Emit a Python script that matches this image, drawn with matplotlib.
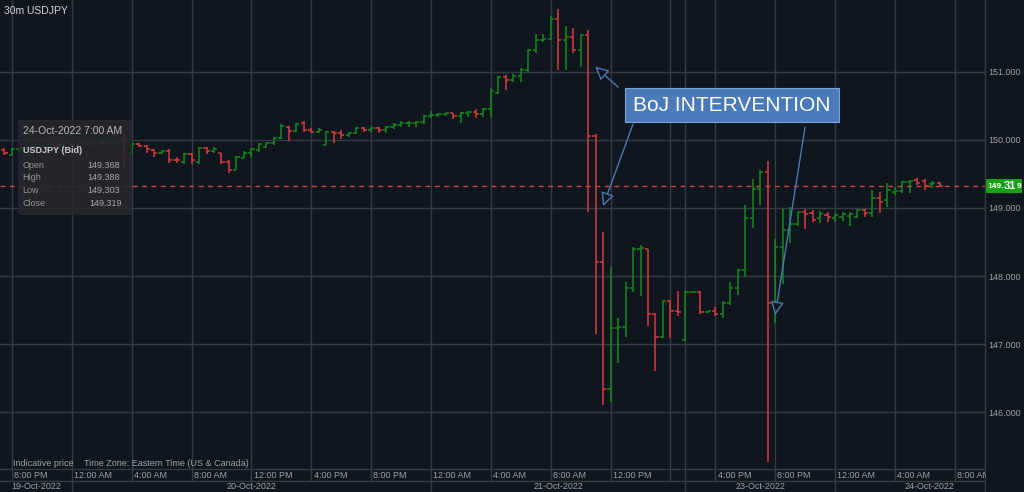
import numpy as np
import matplotlib.pyplot as plt
from matplotlib.patches import Rectangle, FancyArrowPatch
from matplotlib import transforms

plt.rcParams['font.family'] = ['Liberation Sans', 'DejaVu Sans']

# 30m USDJPY bars; index 0 = 19-Oct-2022 8:00 PM ET, weekend squeezed out
bar_idx = list(range(-1, 125))

opens = [149.85, 149.78, 149.86, 149.88, 149.90, 149.89, 149.92, 149.93, 149.92, 149.94,
         149.93, 149.95, 149.94, 149.96, 149.95, 149.96, 149.98, 149.80, 149.94, 149.91,
         149.85, 149.80, 149.84, 149.71, 149.68, 149.79, 149.68, 149.88, 149.84, 149.80,
         149.68, 149.56, 149.74, 149.80, 149.85, 149.90, 149.95, 150.02, 150.19, 150.13,
         150.24, 150.15, 150.12, 149.92, 150.12, 150.10, 150.07, 150.10, 150.17, 150.14,
         150.18, 150.14, 150.19, 150.22, 150.24, 150.25, 150.26, 150.35, 150.36, 150.38,
         150.39, 150.35, 150.40, 150.41, 150.38, 150.45, 150.69, 150.92, 150.88, 150.94,
         151.03, 151.32, 151.47, 151.48, 151.78, 151.46, 151.51, 151.32, 151.54, 150.06,
         148.21, 146.34, 147.24, 147.25, 147.83, 148.39, 148.40, 147.45, 147.10, 147.64,
         147.49, 147.06, 147.77, 147.77, 147.47, 147.48, 147.44, 147.61, 147.83, 148.09,
         148.85, 149.28, 149.53, 147.61, 148.43, 148.68, 148.76, 148.94, 148.92, 148.85,
         148.89, 148.85, 148.87, 148.88, 148.87, 148.97, 148.93, 149.14, 149.12, 149.24,
         149.25, 149.38, 149.41, 149.39, 149.35, 149.368]

highs = [149.88, 149.88, 149.90, 149.92, 149.93, 149.93, 149.95, 149.96, 149.95, 149.97,
         149.96, 149.97, 149.97, 149.98, 149.97, 149.99, 150.10, 149.95, 149.95, 149.92,
         149.86, 149.85, 149.86, 149.75, 149.80, 149.81, 149.90, 149.89, 149.89, 149.81,
         149.71, 149.76, 149.83, 149.88, 149.95, 149.96, 150.04, 150.23, 150.20, 150.25,
         150.28, 150.18, 150.18, 150.13, 150.13, 150.14, 150.12, 150.19, 150.19, 150.19,
         150.19, 150.21, 150.24, 150.27, 150.28, 150.27, 150.36, 150.42, 150.39, 150.40,
         150.39, 150.41, 150.43, 150.45, 150.46, 150.76, 150.93, 150.95, 150.96, 151.05,
         151.33, 151.56, 151.55, 151.82, 151.92, 151.67, 151.64, 151.55, 151.61, 150.09,
         148.65, 148.13, 147.38, 147.91, 148.43, 148.46, 148.40, 147.46, 147.65, 147.65,
         147.78, 147.78, 147.78, 147.78, 147.49, 147.55, 147.64, 147.91, 148.10, 149.04,
         149.42, 149.56, 149.69, 148.54, 148.99, 149.02, 148.94, 148.99, 148.97, 148.96,
         148.94, 148.92, 148.94, 148.94, 148.98, 148.99, 149.27, 149.24, 149.36, 149.31,
         149.40, 149.41, 149.44, 149.43, 149.39, 149.388]

lows = [149.78, 149.77, 149.83, 149.86, 149.87, 149.87, 149.90, 149.91, 149.90, 149.92,
        149.91, 149.93, 149.92, 149.93, 149.93, 149.94, 149.60, 149.78, 149.89, 149.81,
        149.75, 149.79, 149.66, 149.66, 149.65, 149.65, 149.64, 149.79, 149.81, 149.64,
        149.51, 149.56, 149.73, 149.75, 149.82, 149.875, 149.92, 150.01, 149.99, 150.12,
        150.12, 150.10, 150.10, 149.92, 149.95, 150.01, 150.04, 150.09, 150.12, 150.12,
        150.10, 150.10, 150.16, 150.19, 150.19, 150.19, 150.23, 150.32, 150.34, 150.35,
        150.31, 150.25, 150.33, 150.32, 150.34, 150.34, 150.68, 150.73, 150.85, 150.85,
        150.99, 151.28, 151.43, 151.47, 151.02, 151.03, 151.27, 151.07, 148.94, 147.15,
        146.11, 146.15, 146.72, 147.10, 147.77, 147.71, 147.26, 146.60, 147.09, 147.09,
        147.42, 147.05, 147.76, 147.45, 147.46, 147.42, 147.38, 147.57, 147.72, 147.98,
        148.70, 149.05, 145.27, 147.31, 147.88, 148.49, 148.74, 148.69, 148.80, 148.78,
        148.80, 148.80, 148.81, 148.73, 148.85, 148.87, 148.87, 148.92, 149.02, 149.19,
        149.22, 149.22, 149.34, 149.27, 149.29, 149.303]

closes = [149.81, 149.86, 149.88, 149.90, 149.89, 149.92, 149.93, 149.92, 149.94, 149.93,
          149.95, 149.94, 149.96, 149.95, 149.96, 149.97, 149.80, 149.94, 149.91, 149.86,
          149.80, 149.83, 149.71, 149.70, 149.79, 149.70, 149.88, 149.83, 149.87, 149.68,
          149.56, 149.75, 149.81, 149.86, 149.94, 149.95, 150.02, 150.20, 150.13, 150.23,
          150.14, 150.12, 150.14, 150.12, 150.10, 150.07, 150.10, 150.17, 150.15, 150.18,
          150.14, 150.19, 150.22, 150.24, 150.25, 150.26, 150.35, 150.36, 150.38, 150.39,
          150.35, 150.40, 150.41, 150.38, 150.45, 150.71, 150.92, 150.88, 150.94, 151.03,
          151.32, 151.47, 151.48, 151.78, 151.46, 151.51, 151.32, 151.54, 150.06, 148.21,
          146.34, 147.24, 147.25, 147.82, 148.40, 148.41, 147.45, 147.10, 147.64, 147.48,
          147.47, 147.77, 147.77, 147.47, 147.48, 147.44, 147.61, 147.83, 148.09, 148.85,
          149.28, 149.53, 147.61, 148.43, 148.68, 148.76, 148.94, 148.91, 148.83, 148.91,
          148.86, 148.90, 148.91, 148.91, 148.97, 148.92, 149.14, 149.09, 149.26, 149.25,
          149.38, 149.40, 149.37, 149.32, 149.36, 149.319]

price_ticks = [146, 147, 148, 149, 150, 151]
grid_idx = [0, 8, 16, 24, 32, 40, 48, 56, 64, 72, 80, 88, 90, 94, 102, 110, 118, 126]
time_ticks = [0, 8, 16, 24, 32, 40, 48, 56, 64, 72, 80, 94, 102, 110, 118, 126]
time_labels = ['8:00 PM', '12:00 AM', '4:00 AM', '8:00 AM', '12:00 PM', '4:00 PM',
               '8:00 PM', '12:00 AM', '4:00 AM', '8:00 AM', '12:00 PM', '4:00 PM',
               '8:00 PM', '12:00 AM', '4:00 AM', '8:00 AM']
date_breaks = [8, 56, 90, 110]
date_pos = [3.2, 32, 73, 100, 122.6]
date_labels = ['19-Oct-2022', '20-Oct-2022', '21-Oct-2022', '23-Oct-2022', '24-Oct-2022']

last_time = '24-Oct-2022 7:00 AM'
last_ohlc = [('Open', '149.368'), ('High', '149.388'), ('Low', '149.303'), ('Close', '149.319')]

BG = '#10161e'
GRID = '#363b42'
UP = '#13851b'
DOWN = '#cf3a3c'
ANN = '#4a7aba'
TXT = '#9da1a6'

W, H = 1024, 492
fig = plt.figure(figsize=(W / 100, H / 100), dpi=100, facecolor=BG)
ax = fig.add_axes([0, 23 / H, 984.7 / W, 469 / H])
ax.set_facecolor(BG)


def px(x, y):
    # figure pixel (from top-left) -> figure fraction
    return x / W, 1 - y / H


# OHLC bars
x = np.array(bar_idx)
o, h, l, c = map(np.array, (opens, highs, lows, closes))
col = np.where(c >= o, UP, DOWN)
ax.vlines(x, l, h, colors=col, lw=1.15, zorder=3)
ax.hlines(o, x - 0.42, x, colors=col, lw=1.15, zorder=3)
ax.hlines(c, x, x + 0.42, colors=col, lw=1.15, zorder=3)

ax.set_xlim(-1.6, 130.0)
ax.set_ylim(145.167, 152.053)

# grid + price axis
ax.set_xticks(grid_idx)
ax.set_xticklabels([])
ax.yaxis.tick_right()
ax.set_yticks(price_ticks)
ax.set_yticklabels([f'{v:.3f}' for v in price_ticks])
ax.tick_params(length=0, labelsize=6.5, labelcolor=TXT, pad=2.5)
ax.grid(color=GRID, lw=1.0, zorder=0)
for s in ['left', 'top']:
    ax.spines[s].set_visible(False)
for s in ['right', 'bottom']:
    ax.spines[s].set_color(GRID)
    ax.spines[s].set_linewidth(1.0)

# time / date rows below the plot
xt = ax.get_xaxis_transform()
r1, r2 = -12 / 469, -23 / 469
ax.vlines(grid_idx, r1, 0, transform=xt, colors=GRID, lw=1.0, clip_on=False)
ax.vlines(date_breaks, r2, r1, transform=xt, colors=GRID, lw=1.0, clip_on=False)
ax.plot([0, 1], [r1, r1], transform=ax.transAxes, color=GRID, lw=1.0, clip_on=False)
ax.plot([1, 1], [r2, 0], transform=ax.transAxes, color=GRID, lw=1.0, clip_on=False)
for k, lab in zip(time_ticks, time_labels):
    ax.text(k + 0.3, -6 / 469, lab, transform=xt, ha='left', va='center',
            fontsize=6.5, color=TXT, clip_on=False)
for k, lab in zip(date_pos, date_labels):
    ax.text(k, -17.5 / 469, lab, transform=xt, ha='center', va='center',
            fontsize=6.5, color=TXT, clip_on=False)
fig.add_artist(Rectangle(px(985.5, 492), 40 / W, 23 / H, transform=fig.transFigure,
                         fc=BG, ec='none', zorder=10))

# last price line + tag
last = closes[-1]
ax.axhline(last, color='#d8433d', lw=1.0, ls=(0, (3.4, 3.4)), zorder=2)
bt = transforms.blended_transform_factory(ax.transAxes, ax.transData)
ax.add_patch(Rectangle((1.0015, last - 0.103), 0.0366, 0.206, transform=bt,
                       fc='#16a316', ec='none', clip_on=False, zorder=8))
ax.text(987.5 / 984.7, last, '149.', transform=bt, ha='left', va='center', fontsize=6,
        weight='bold', color='white', clip_on=False, zorder=9)
ax.text(1004.0 / 984.7, last, '31', transform=bt, ha='left', va='center', fontsize=8,
        weight='bold', color='white', clip_on=False, zorder=9)
ax.text(1016.8 / 984.7, last, '9', transform=bt, ha='left', va='center', fontsize=6,
        weight='bold', color='white', clip_on=False, zorder=9)

# annotation
ax.add_patch(Rectangle((81.95, 150.266), 28.52, 0.49, fc=ANN, ec='#7ba3d6',
                       lw=0.8, zorder=7))
ax.text(96.2, 150.505, 'BoJ INTERVENTION', ha='center', va='center', fontsize=15,
        color='white', zorder=8)
arrows = [((81.0, 150.775), (77.94, 151.074)),
          ((83.0, 150.232), (79.0, 149.028)),
          ((106.0, 150.188), (102.0, 147.428))]
for a, b in arrows:
    ax.add_patch(FancyArrowPatch(a, b, arrowstyle='-|>,head_length=0.8,head_width=0.4',
                                 mutation_scale=10, lw=1.0, ec='#4a78b0', fc=BG,
                                 shrinkA=0, shrinkB=0, zorder=6))

# header + footer text
fig.text(*px(4, 10.5), '30m USDJPY', ha='left', va='center', fontsize=7.5, color='#d5d7da')
fig.text(*px(13.3, 463), 'Indicative price', ha='left', va='center', fontsize=6.5, color=TXT)
fig.text(*px(84.3, 463), 'Time Zone: Eastern Time (US & Canada)', ha='left', va='center',
         fontsize=6.5, color=TXT)

# hover tooltip
fig.add_artist(Rectangle(px(18, 215), 114 / W, 95 / H, transform=fig.transFigure,
                         fc='#26282c', ec='none', alpha=0.88, zorder=5))
fig.text(*px(22.7, 131.5), last_time, ha='left', va='center', fontsize=7.5,
         color='#b4b6b9', zorder=6)
fig.text(*px(22.7, 150.5), 'USDJPY (Bid)', ha='left', va='center', fontsize=6.5,
         weight='bold', color='#c8cacd', zorder=6)
for i, (name, val) in enumerate(last_ohlc):
    yy = 165 + i * 12.7
    fig.text(*px(22.7, yy), name, ha='left', va='center', fontsize=6.5, color='#8f9398', zorder=6)
    fig.text(*px(122 if name == 'Close' else 120, yy), val, ha='right', va='center',
             fontsize=6.5, color='#a4a7ab', zorder=6)

fig.savefig('out.png', dpi=100, facecolor=BG)
